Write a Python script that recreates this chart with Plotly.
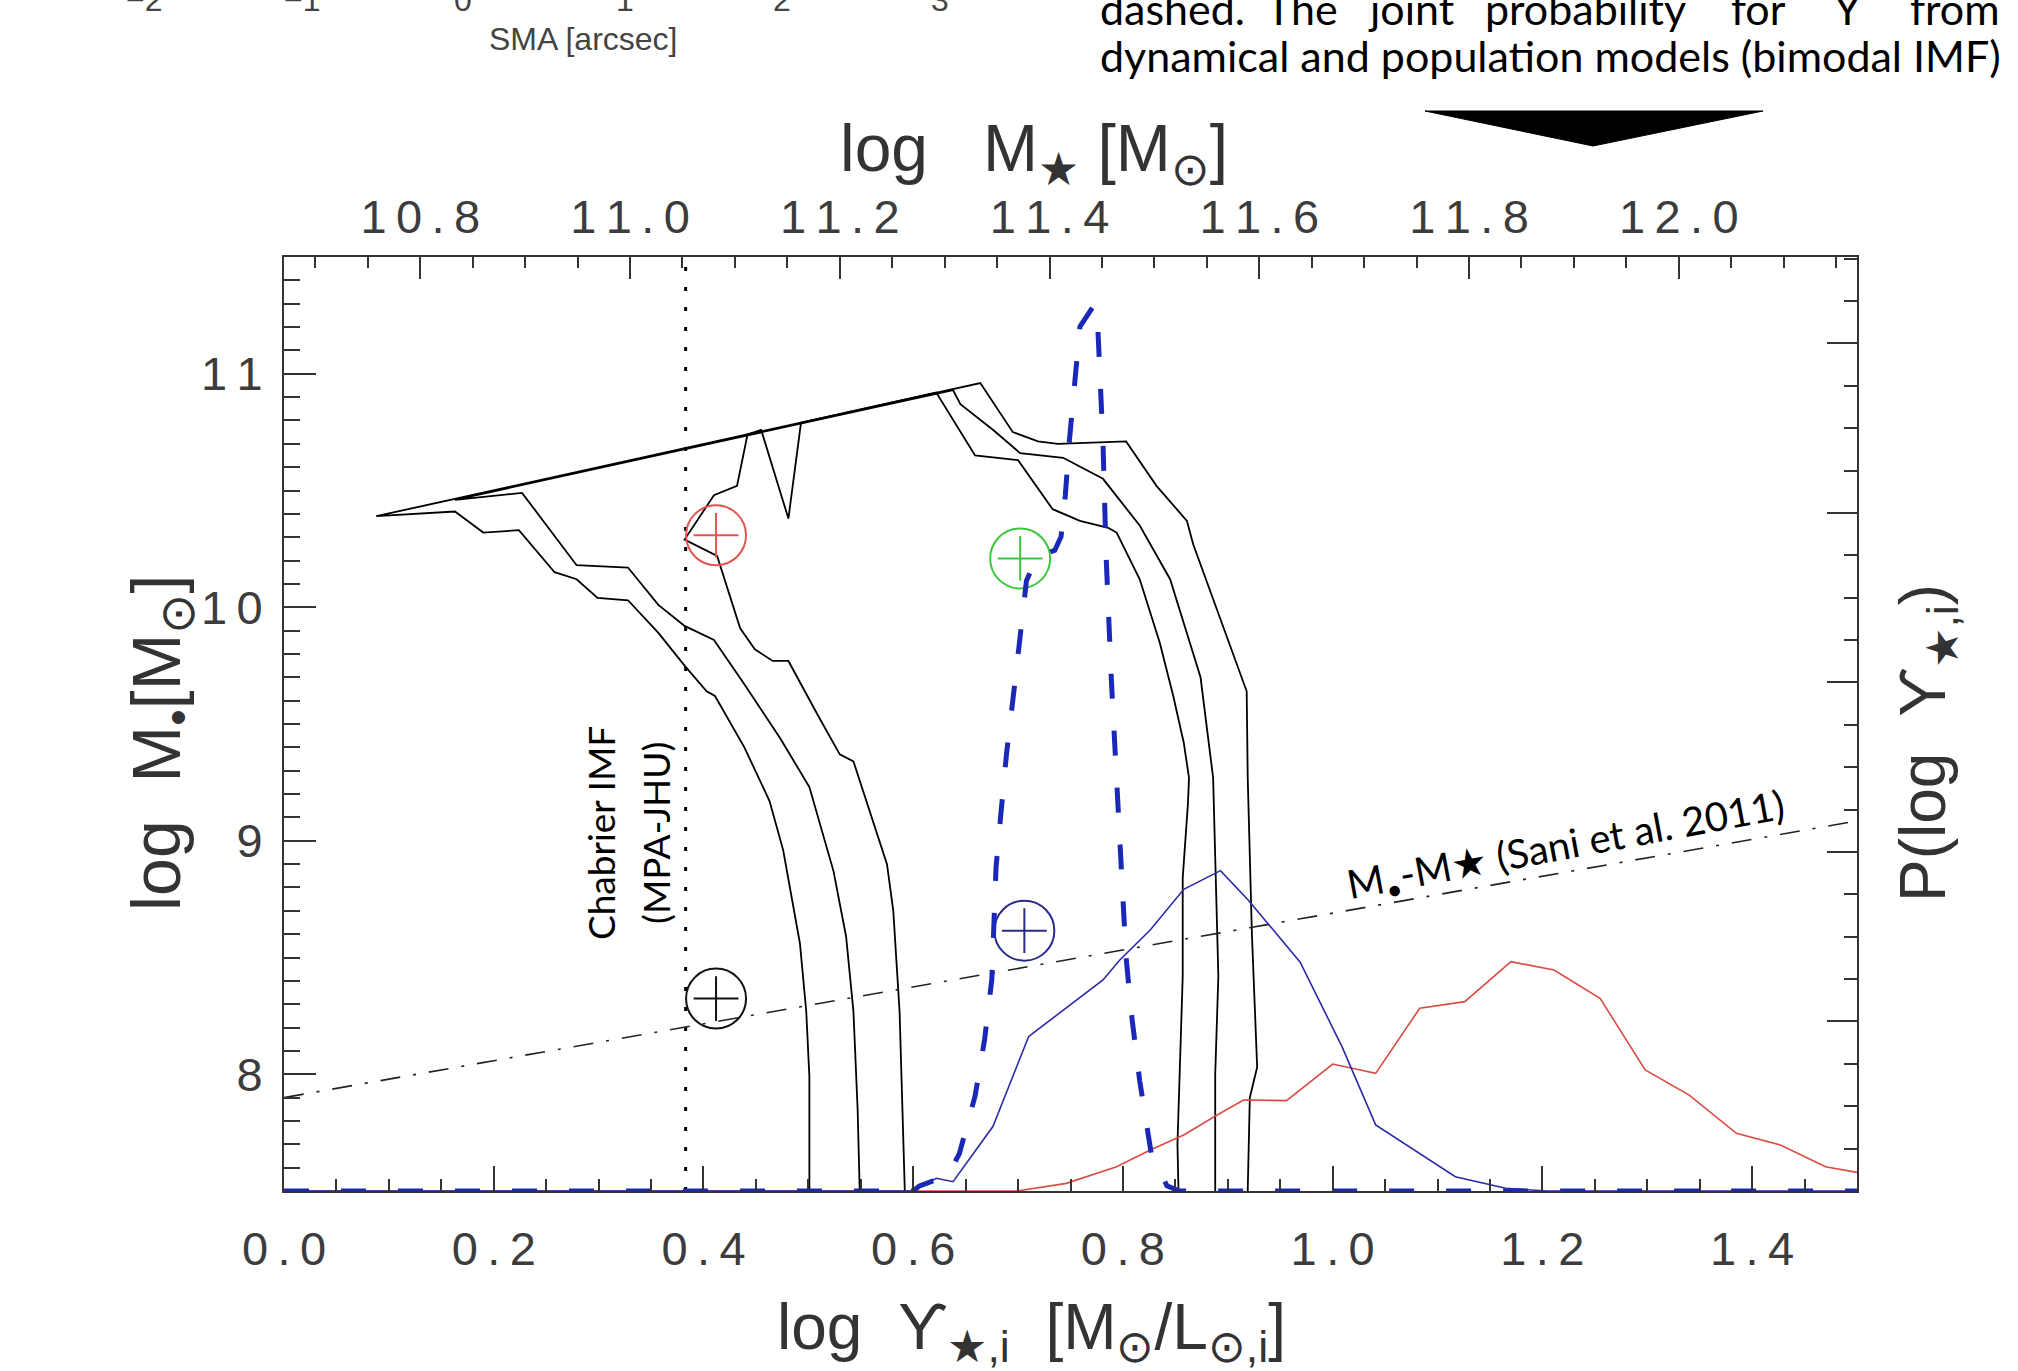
import plotly.graph_objects as go

# ---------------- data ----------------
# confidence contours in the (log Upsilon, log M_BH) plane (left axis)
outer_x = [0.501, 0.501, 0.498, 0.492, 0.476, 0.463, 0.439, 0.411, 0.403, 0.382, 0.357, 0.328, 0.299, 0.279, 0.258,
           0.224, 0.190, 0.163, 0.088, 0.664, 0.695, 0.719, 0.738, 0.803, 0.832, 0.861, 0.867, 0.918, 0.919, 0.923,
           0.928, 0.921, 0.919]
outer_y = [7.50, 7.99, 8.27, 8.56, 8.96, 9.17, 9.40, 9.62, 9.64, 9.75, 9.89, 10.03, 10.04, 10.12, 10.15,
           10.33, 10.32, 10.41, 10.39, 10.96, 10.75, 10.71, 10.70, 10.71, 10.52, 10.37, 10.27, 9.64, 9.27, 8.60,
           8.03, 7.90, 7.50]

mid_x = [0.549, 0.547, 0.543, 0.536, 0.524, 0.501, 0.473, 0.439, 0.410, 0.382, 0.357, 0.328, 0.279, 0.227, 0.163,
         0.638, 0.645, 0.676, 0.702, 0.743, 0.781, 0.816, 0.845, 0.874, 0.886, 0.891, 0.888, 0.888]
mid_y = [7.50, 7.85, 8.27, 8.59, 8.87, 9.23, 9.44, 9.67, 9.86, 9.92, 10.01, 10.17, 10.18, 10.49, 10.46,
         10.93, 10.87, 10.76, 10.66, 10.64, 10.55, 10.35, 10.12, 9.70, 9.27, 8.42, 8.00, 7.50]

inner_x = [0.592, 0.590, 0.587, 0.581, 0.575, 0.543, 0.530, 0.510, 0.489, 0.481, 0.466, 0.449, 0.435, 0.418, 0.413,
           0.382, 0.410, 0.432, 0.442, 0.455, 0.481, 0.493, 0.622, 0.659, 0.700, 0.733, 0.759, 0.786, 0.794, 0.816,
           0.835, 0.848, 0.858, 0.863, 0.862, 0.857, 0.857, 0.852, 0.853]
inner_y = [7.50, 7.85, 8.27, 8.70, 8.90, 9.34, 9.37, 9.53, 9.70, 9.77, 9.77, 9.82, 9.91, 10.15, 10.22,
           10.29, 10.48, 10.52, 10.74, 10.76, 10.38, 10.79, 10.92, 10.65, 10.63, 10.42, 10.37, 10.34, 10.32, 10.12,
           9.85, 9.62, 9.42, 9.27, 9.16, 8.84, 8.42, 7.70, 7.50]

# probability curves (right axis, P(log Upsilon))
joint_x = [0.0, 0.600, 0.606, 0.619, 0.632, 0.644, 0.659, 0.668, 0.675, 0.678, 0.679, 0.684, 0.689, 0.697, 0.705,
           0.708, 0.718, 0.735, 0.741, 0.745, 0.749, 0.754, 0.759, 0.773, 0.776, 0.781, 0.784, 0.789, 0.792, 0.796,
           0.799, 0.803, 0.808, 0.816, 0.827, 0.842, 0.854, 1.5]
joint_p = [0.0, 0.0, 0.03, 0.06, 0.08, 0.22, 0.56, 0.89, 1.25, 1.64, 1.91, 2.25, 2.58, 3.00, 3.43,
           3.60, 3.74, 3.78, 3.86, 4.10, 4.43, 4.79, 5.10, 5.23, 5.10, 4.41, 3.74, 3.01, 2.62, 2.23,
           1.84, 1.38, 1.05, 0.65, 0.22, 0.03, 0.0, 0.0]

dyn_x = [0.0, 0.600, 0.603, 0.622, 0.638, 0.676, 0.710, 0.714, 0.781, 0.797, 0.826, 0.858, 0.893, 0.919, 0.969,
         1.009, 1.041, 1.078, 1.117, 1.165, 1.204, 1.5]
dyn_p = [0.0, 0.0, 0.01, 0.075, 0.055, 0.38, 0.91, 0.93, 1.245, 1.363, 1.54, 1.78, 1.89, 1.72, 1.35,
         0.85, 0.39, 0.24, 0.084, 0.016, 0.0, 0.0]

pop_x = [0.0, 0.699, 0.746, 0.794, 0.826, 0.858, 0.887, 0.915, 0.956, 1.000, 1.041, 1.083, 1.126, 1.170, 1.211,
         1.255, 1.298, 1.340, 1.385, 1.427, 1.470, 1.500]
pop_p = [0.0, 0.0, 0.045, 0.143, 0.242, 0.33, 0.438, 0.537, 0.533, 0.749, 0.694, 1.078, 1.117, 1.353, 1.304,
         1.137, 0.714, 0.566, 0.34, 0.271, 0.143, 0.11]

# M_BH - M_star relation (Sani et al. 2011)
sani_x = [0.0, 1.5]
sani_y = [7.90, 9.085]

# Chabrier IMF (MPA-JHU) reference value
chabrier_x = 0.383
chabrier_y = [7.5, 11.5]

# best-fit markers
mark_x = [0.412, 0.702, 0.706, 0.412]
mark_y = [10.308, 10.209, 8.615, 8.324]
mark_col = ["#e2554c", "#3cc83c", "#2a2a8c", "#111111"]

# axis tick labels
x_ticks = [0.0, 0.2, 0.4, 0.6, 0.8, 1.0, 1.2, 1.4]
x2_ticks = [10.8, 11.0, 11.2, 11.4, 11.6, 11.8, 12.0]
y_ticks = [8, 9, 10, 11]

# top axis: log M_star = log Upsilon + offset
mstar_offset = 10.67

# ---------------- layout helpers ----------------
W_FIG, H_FIG = 2018, 1371
PL, PR, PT, PB = 284, 1857, 257, 1191
PW, PH = PR - PL, PB - PT


def px(x):
    return (x - PL) / PW


def py(y):
    return (PB - y) / PH


def spaced(s):
    # IDL-like wide glyph spacing
    return "\u2009".join(s)


AXFONT = "Liberation Sans, Arial, sans-serif"
TXTFONT = "Lato, Open Sans, sans-serif"
AXCOL = "#333333"

fig = go.Figure()

# contours
for cx, cy in [(outer_x, outer_y), (mid_x, mid_y), (inner_x, inner_y)]:
    fig.add_trace(go.Scatter(x=cx, y=cy, mode="lines", line=dict(color="black", width=1.8),
                             showlegend=False, hoverinfo="skip"))

# Chabrier dotted line
fig.add_trace(go.Scatter(x=[chabrier_x, chabrier_x], y=chabrier_y, mode="lines",
                         line=dict(color="black", width=3, dash="4px,16px"), showlegend=False))

# Sani relation
fig.add_trace(go.Scatter(x=sani_x, y=sani_y, mode="lines",
                         line=dict(color="#222222", width=1.6, dash="20px,13px,3px,13px"), showlegend=False))

# probability curves on right axis
fig.add_trace(go.Scatter(x=pop_x, y=pop_p, yaxis="y2", mode="lines",
                         line=dict(color="#dc4a44", width=1.6), showlegend=False))
fig.add_trace(go.Scatter(x=dyn_x, y=dyn_p, yaxis="y2", mode="lines",
                         line=dict(color="#2a2aa8", width=1.6), showlegend=False))
fig.add_trace(go.Scatter(x=joint_x, y=joint_p, yaxis="y2", mode="lines",
                         line=dict(color="#1a28b8", width=5, dash="25px,32px"), showlegend=False))

# markers: circle + cross
fig.add_trace(go.Scatter(x=mark_x, y=mark_y, mode="markers",
                         marker=dict(symbol="circle-open", size=60, color=mark_col, line=dict(width=2)),
                         showlegend=False))
fig.add_trace(go.Scatter(x=mark_x, y=mark_y, mode="markers",
                         marker=dict(symbol="cross-thin-open", size=32, color=mark_col, line=dict(width=2)),
                         showlegend=False))

# dummy trace for top axis
fig.add_trace(go.Scatter(x=[mstar_offset, mstar_offset + 1.5], y=[7.5, 7.5], xaxis="x2", mode="lines",
                         line=dict(width=0), opacity=0, showlegend=False, hoverinfo="skip"))

common = dict(showgrid=False, zeroline=False, showline=True, linecolor=AXCOL, linewidth=2,
              ticks="inside", tickcolor=AXCOL, tickwidth=2,
              tickfont=dict(family=AXFONT, size=47, color="#3c3c3c"))

fig.update_layout(
    width=W_FIG, height=H_FIG,
    margin=dict(l=PL, r=W_FIG - PR, t=PT, b=H_FIG - PB),
    paper_bgcolor="white", plot_bgcolor="white",
    xaxis=dict(range=[0, 1.5], tickmode="array", tickvals=x_ticks,
               ticktext=[spaced(f"{v:.1f}") for v in x_ticks], ticklen=25,
               ticklabelstandoff=16,
               minor=dict(tickmode="linear", dtick=0.05, tick0=0, ticklen=12, ticks="inside",
                          tickcolor=AXCOL, tickwidth=1.5),
               **common),
    xaxis2=dict(range=[mstar_offset, mstar_offset + 1.5], overlaying="x", side="top", anchor="y",
                tickmode="array", tickvals=x2_ticks, ticktext=[spaced(f"{v:.1f}") for v in x2_ticks],
                ticklen=22, ticklabelstandoff=3,
                minor=dict(tickmode="linear", dtick=0.05, tick0=10.8, ticklen=11, ticks="inside",
                           tickcolor=AXCOL, tickwidth=1.5),
                **common),
    yaxis=dict(range=[7.5, 11.5], tickmode="array", tickvals=y_ticks,
               ticktext=[spaced(str(v)) for v in y_ticks], ticklen=32,
               ticklabelstandoff=10,
               minor=dict(tickmode="linear", dtick=0.1, tick0=8, ticklen=16, ticks="inside",
                          tickcolor=AXCOL, tickwidth=1.5),
               **common),
    yaxis2=dict(range=[0, 5.51], overlaying="y", side="right", anchor="x", tickmode="linear", tick0=0, dtick=1,
                ticklen=30, showticklabels=False,
                minor=dict(tickmode="linear", dtick=0.25, tick0=0, ticklen=13, ticks="inside",
                           tickcolor=AXCOL, tickwidth=1.5),
                showgrid=False, zeroline=False, showline=True, linecolor=AXCOL, linewidth=2,
                ticks="inside", tickcolor=AXCOL, tickwidth=2),
)

ann = []
# axis titles
ann.append(dict(text="log   M<sub>★</sub> [M<sub>⊙</sub>]", x=px(1034), y=py(153),
                font=dict(family=AXFONT, size=66, color="#333")))
ann.append(dict(text="log  ϒ<sub>★,i</sub>  [M<sub>⊙</sub>/L<sub>⊙,i</sub>]", x=px(1031), y=py(1331),
                font=dict(family=AXFONT, size=64, color="#333")))
ann.append(dict(text="log  M<sub>•</sub>[M<sub>⊙</sub>]", x=px(161), y=py(743), textangle=-90,
                font=dict(family=AXFONT, size=68, color="#333")))
ann.append(dict(text="P(log  ϒ<sub>★,i</sub>)", x=px(1927), y=py(743), textangle=-90,
                font=dict(family=AXFONT, size=64, color="#333")))

# in-plot labels
ann.append(dict(text="Chabrier IMF", x=px(600), y=py(833), textangle=-90,
                font=dict(family=TXTFONT, size=37, color="black")))
ann.append(dict(text="(MPA-JHU)", x=px(655), y=py(833), textangle=-90,
                font=dict(family=TXTFONT, size=37, color="black")))
ann.append(dict(text="M<sub>•</sub>-M★ (Sani et al. 2011)", x=px(1566), y=py(846), textangle=-10.5,
                font=dict(family=TXTFONT, size=40, color="black")))

# slide text at top
words = ["dashed.", "The", "joint", "probability", "for", "Υ", "from"]
word_px = [1098, 1264, 1366, 1483, 1729, 1832, 1908]
for w, xp in zip(words, word_px):
    ann.append(dict(text=w, x=px(xp), y=py(8), xanchor="left", yanchor="middle",
                    font=dict(family=TXTFONT, size=43, color="black")))
ann.append(dict(text="dynamical and population models (bimodal IMF)", x=px(1098), y=py(56),
                xanchor="left", yanchor="middle", font=dict(family=TXTFONT, size=43, color="black")))

# truncated axis of the panel above
sma_labels = ["−2", "−1", "0", "1", "2", "3"]
sma_px = [144, 302, 463, 625, 782, 940]
for t, xp in zip(sma_labels, sma_px):
    ann.append(dict(text=t, x=px(xp), y=py(0), xanchor="center", yanchor="middle",
                    font=dict(family=AXFONT, size=32, color="#444")))
ann.append(dict(text="SMA [arcsec]", x=px(583), y=py(39), font=dict(family=AXFONT, size=32, color="#444")))

for a in ann:
    a.setdefault("xref", "paper")
    a.setdefault("yref", "paper")
    a.setdefault("showarrow", False)
    a.setdefault("xanchor", "center")
    a.setdefault("yanchor", "middle")
fig.update_layout(annotations=ann)

# black arrow (triangle) pointing down at the plot
fig.add_shape(type="path", xref="paper", yref="paper",
              path=f"M {px(1425)},{py(111)} L {px(1763)},{py(111)} L {px(1593)},{py(146)} Z",
              fillcolor="black", line=dict(color="black", width=1))

fig.write_html("out.html", config={"displayModeBar": False},
               post_script="document.body.style.margin='0px';")
